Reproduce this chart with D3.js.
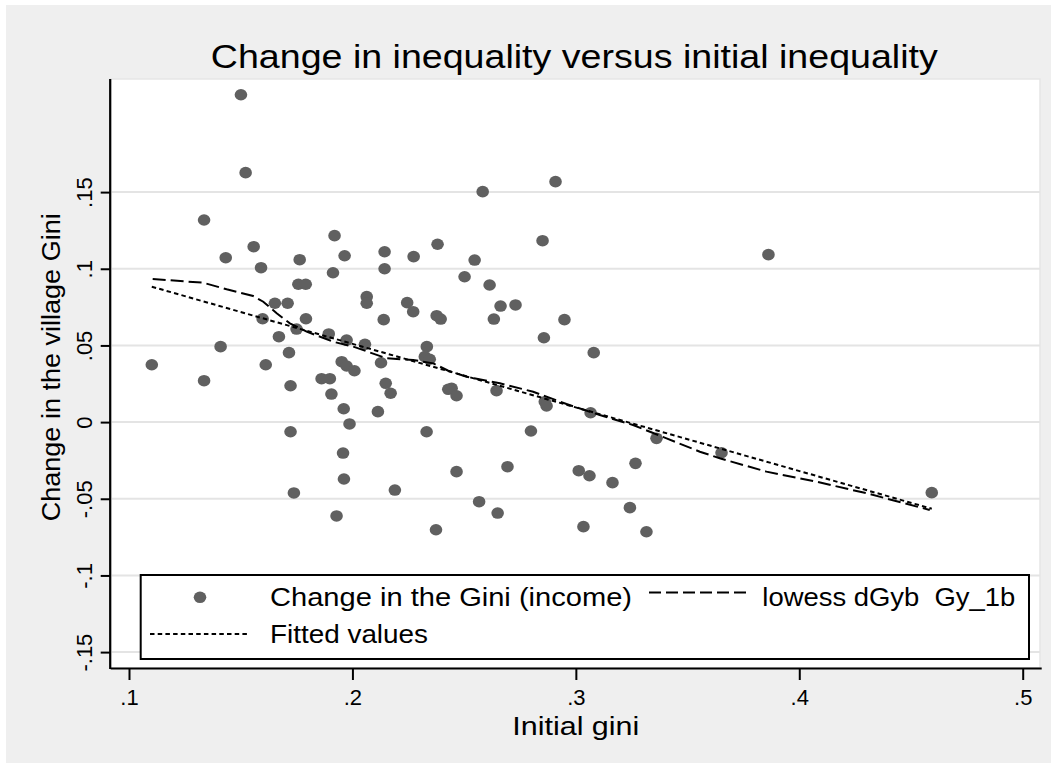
<!DOCTYPE html>
<html>
<head>
<meta charset="utf-8">
<script src="https://cdn.jsdelivr.net/npm/d3@7"></script>
<style>
  html, body { margin: 0; padding: 0; background: #ffffff; }
  svg { display: block; }
  text { font-family: "Liberation Sans", Arial, Helvetica, sans-serif; fill: #000; }
</style>
</head>
<body>
<svg id="chart" width="1057" height="768"></svg>
<script>
// Initial village Gini (x) and change in the Gini (y), one entry per village
const giniInitial = [
  0.1501, 0.1522, 0.1336, 0.1433, 0.1558, 0.1591, 0.1764, 0.1758, 0.1791, 0.1920,
  0.1965, 0.1913, 0.2144, 0.2144, 0.2274, 0.2381, 0.1653, 0.1710, 0.2064, 0.2064,
  0.2245, 0.2272, 0.2377, 0.2395, 0.1598, 0.1792, 0.2140, 0.1750, 0.1894, 0.1671,
  0.1974, 0.2056, 0.1410, 0.1716, 0.2333, 0.2324, 0.2346, 0.1102, 0.1612, 0.1952,
  0.1974, 0.2009, 0.2128, 0.1336, 0.1862, 0.1899, 0.2149, 0.2171, 0.1723, 0.1906,
  0.2429, 0.1961, 0.2114, 0.1987, 0.1723, 0.2332, 0.1958, 0.1962, 0.1738, 0.2190,
  0.1929, 0.2583, 0.2909, 0.2547, 0.2851, 0.2502, 0.2614, 0.2663, 0.2730, 0.2633,
  0.2949, 0.2857, 0.3080, 0.2444, 0.2466, 0.2645, 0.2861, 0.2869, 0.3066, 0.2799,
  0.3361, 0.3652, 0.2466, 0.2694, 0.3013, 0.3061, 0.3164, 0.3267, 0.2567, 0.2650,
  0.3242, 0.2374, 0.3034, 0.3316, 0.3862, 0.4593
];
const giniChange = [
  0.2135, 0.1627, 0.1318, 0.1072, 0.1144, 0.1007, 0.1059, 0.0899, 0.0899, 0.1216,
  0.1085, 0.0974, 0.1111, 0.1000, 0.1079, 0.1160, 0.0775, 0.0775, 0.0818, 0.0775,
  0.0779, 0.0720, 0.0694, 0.0672, 0.0674, 0.0674, 0.0668, 0.0607, 0.0575, 0.0557,
  0.0535, 0.0507, 0.0492, 0.0453, 0.0492, 0.0427, 0.0410, 0.0374, 0.0374, 0.0394,
  0.0366, 0.0335, 0.0387, 0.0270, 0.0283, 0.0283, 0.0253, 0.0188, 0.0237, 0.0183,
  0.0214, 0.0087, 0.0068, -0.0012, -0.0063, -0.0063, -0.0202, -0.0371, -0.0462, -0.0443,
  -0.0612, 0.1503, 0.1568, 0.1057, 0.1183, 0.0948, 0.0894, 0.0757, 0.0764, 0.0672,
  0.0668, 0.0550, 0.0453, 0.0220, 0.0172, 0.0205, 0.0133, 0.0105, 0.0061, -0.0058,
  -0.0106, -0.0200, -0.0323, -0.0291, -0.0317, -0.0350, -0.0395, -0.0269, -0.0519, -0.0593,
  -0.0558, -0.0702, -0.0682, -0.0715, 0.1092, -0.0460
];

// Lowess smooth of the change on initial Gini
const lowessX = [0.1106, 0.1332, 0.1437, 0.1556, 0.1601, 0.1661, 0.1720, 0.1795, 0.1914, 0.2004,
                 0.2153, 0.2272, 0.2362, 0.2429, 0.2511, 0.2660, 0.2809, 0.2958, 0.3107, 0.3256,
                 0.3406, 0.3555, 0.3644, 0.3853, 0.4077, 0.4301, 0.4584];
const lowessY = [0.0933, 0.0909, 0.0866, 0.0822, 0.0785, 0.0710, 0.0644, 0.0590, 0.0524, 0.0492,
                 0.0416, 0.0405, 0.0383, 0.0335, 0.0296, 0.0253, 0.0198, 0.0118, 0.0046, -0.0019,
                 -0.0106, -0.0193, -0.0236, -0.0323, -0.0389, -0.0464, -0.0573];

// Linear fit (fitted values at the ends of the data range)
const fitX = [0.1102, 0.4593];
const fitY = [0.0883, -0.0565];

const xTicks = [0.1, 0.2, 0.3, 0.4, 0.5];
const xTickLabels = [".1", ".2", ".3", ".4", ".5"];
const yTicks = [-0.15, -0.1, -0.05, 0, 0.05, 0.1, 0.15];
const yTickLabels = ["-.15", "-.1", "-.05", "0", ".05", ".1", ".15"];

const titleText = "Change in inequality versus initial inequality";
const xTitle = "Initial gini";
const yTitle = "Change in the village Gini";
const legendScatter = "Change in the Gini (income)";
const legendLowess = "lowess dGyb  Gy_1b";
const legendFit = "Fitted values";

const svg = d3.select("#chart");

// Outer graph region
svg.append("rect").attr("x", 6).attr("y", 5).attr("width", 1045).attr("height", 758)
  .attr("fill", "#efefef");

// Plot region
const plotL = 110.7, plotR = 1040, plotT = 79, plotB = 668;
svg.append("rect").attr("x", plotL).attr("y", plotT)
  .attr("width", plotR - plotL).attr("height", plotB - plotT)
  .attr("fill", "#ffffff").attr("stroke", "#e6e6e6").attr("stroke-width", 1.5);

const x = d3.scaleLinear().domain([0.1, 0.5]).range([129, 1022.7]);
const y = d3.scaleLinear().domain([-0.15, 0.15]).range([652.1, 192.1]);

// Horizontal grid lines
svg.append("g").selectAll("line").data(yTicks).join("line")
  .attr("x1", plotL + 1).attr("x2", plotR)
  .attr("y1", d => y(d)).attr("y2", d => y(d))
  .attr("stroke", "#e4e4e4").attr("stroke-width", 2);

// Scatter points
const pts = giniInitial.map((g, i) => ({ gx: g, gy: giniChange[i] }));
svg.append("g").selectAll("ellipse").data(pts).join("ellipse")
  .attr("cx", d => x(d.gx)).attr("cy", d => y(d.gy))
  .attr("rx", 6.3).attr("ry", 5.8)
  .attr("fill", "#606060");

// Lowess line (long dash)
const line = d3.line().x(d => x(d[0])).y(d => y(d[1]));
svg.append("path")
  .datum(lowessX.map((v, i) => [v, lowessY[i]]))
  .attr("d", line).attr("fill", "none").attr("stroke", "#000")
  .attr("stroke-width", 2).attr("stroke-dasharray", "13,5");

// Fitted values (short dash)
svg.append("path")
  .datum(fitX.map((v, i) => [v, fitY[i]]))
  .attr("d", line).attr("fill", "none").attr("stroke", "#000")
  .attr("stroke-width", 2).attr("stroke-dasharray", "4.5,3.2");

// X axis
const xAxis = d3.axisBottom(x).tickValues(xTicks)
  .tickFormat((d, i) => xTickLabels[i]).tickSize(12).tickPadding(9);
const gx = svg.append("g").attr("transform", `translate(0,${plotB})`).call(xAxis);
gx.select(".domain").attr("d", `M${plotL},0.5H${plotR + 1.7}`)
  .attr("stroke", "#000").attr("stroke-width", 2.2);
gx.selectAll(".tick line").attr("stroke", "#000").attr("stroke-width", 2);
gx.selectAll(".tick text").attr("font-size", 22).attr("fill", "#000")
  .attr("font-family", "Liberation Sans, Arial, sans-serif");

// Y axis
const yAxis = d3.axisLeft(y).tickValues(yTicks)
  .tickFormat((d, i) => yTickLabels[i]).tickSize(10).tickPadding(4);
const gy = svg.append("g").attr("transform", `translate(${plotL},0)`).call(yAxis);
gy.select(".domain").attr("d", `M-0.5,${plotT}V${plotB + 1}`)
  .attr("stroke", "#000").attr("stroke-width", 2.2);
gy.selectAll(".tick line").attr("stroke", "#000").attr("stroke-width", 2);
gy.selectAll(".tick text")
  .attr("font-size", 22).attr("fill", "#000")
  .attr("font-family", "Liberation Sans, Arial, sans-serif")
  .attr("text-anchor", "middle").attr("dy", null).attr("x", null)
  .attr("transform", "translate(-19,0) rotate(-90)");

// Titles
svg.append("text").attr("x", 574.3).attr("y", 67.7)
  .attr("text-anchor", "middle").attr("font-size", 33)
  .attr("textLength", 727).attr("lengthAdjust", "spacingAndGlyphs")
  .text(titleText);

svg.append("text").attr("x", 575.8).attr("y", 735)
  .attr("text-anchor", "middle").attr("font-size", 25.5)
  .attr("textLength", 127).attr("lengthAdjust", "spacingAndGlyphs")
  .text(xTitle);

svg.append("text")
  .attr("transform", "translate(60,367.3) rotate(-90)")
  .attr("text-anchor", "middle").attr("font-size", 25)
  .attr("textLength", 308).attr("lengthAdjust", "spacingAndGlyphs")
  .text(yTitle);

// Legend
const lg = svg.append("g");
lg.append("rect").attr("x", 140.7).attr("y", 575).attr("width", 888.3).attr("height", 84)
  .attr("fill", "#ffffff").attr("stroke", "#000").attr("stroke-width", 2);
lg.append("ellipse").attr("cx", 200).attr("cy", 597.3).attr("rx", 6.3).attr("ry", 5.8)
  .attr("fill", "#606060");
lg.append("text").attr("x", 270).attr("y", 605.7).attr("font-size", 26)
  .attr("textLength", 362).attr("lengthAdjust", "spacingAndGlyphs")
  .text(legendScatter);
lg.append("line").attr("x1", 649).attr("x2", 747).attr("y1", 592.5).attr("y2", 592.5)
  .attr("stroke", "#000").attr("stroke-width", 2).attr("stroke-dasharray", "12,5");
lg.append("text").attr("x", 762.3).attr("y", 605.7).attr("font-size", 26)
  .style("white-space", "pre")
  .attr("textLength", 253).attr("lengthAdjust", "spacingAndGlyphs")
  .text(legendLowess);
lg.append("line").attr("x1", 150).attr("x2", 250).attr("y1", 634).attr("y2", 634)
  .attr("stroke", "#000").attr("stroke-width", 2).attr("stroke-dasharray", "4.5,3.2");
lg.append("text").attr("x", 270).attr("y", 642.7).attr("font-size", 26)
  .attr("textLength", 158).attr("lengthAdjust", "spacingAndGlyphs")
  .text(legendFit);
</script>
</body>
</html>
